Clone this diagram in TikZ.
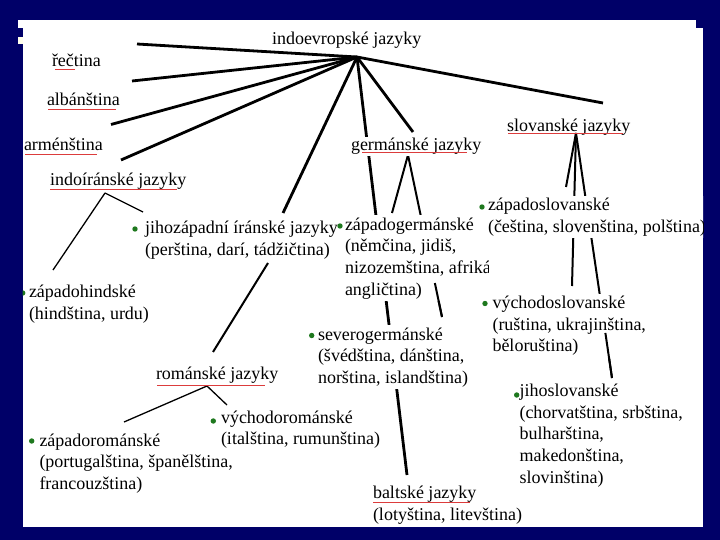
\documentclass[tikz,border=0pt]{standalone}
\usepackage{fontspec}
\setmainfont{Liberation Serif}
\usetikzlibrary{calc}
\definecolor{navy}{RGB}{0,0,104}
\definecolor{spell}{RGB}{220,60,60}
\definecolor{dotgreen}{RGB}{30,120,30}
\begin{document}
\begin{tikzpicture}[x=1pt,y=-1pt,
  lbl/.style={anchor=base west, inner xsep=1pt, inner ysep=2pt, outer sep=0pt,
              font=\fontsize{18}{21.7}\selectfont, align=left, text=black},
  box/.style={lbl, fill=white},
  wA/.style={line width=2.8pt, black},
  wB/.style={line width=2pt, black},
  wC/.style={line width=1.3pt, black},
  spl/.style={spell, line width=1pt},
  dot/.style={circle, fill=dotgreen, inner sep=0pt, minimum size=5.4pt}
]
\useasboundingbox (0,0) rectangle (720,540);
\fill[navy] (0,0) rectangle (720,540);
\fill[white] (18,20) rectangle (696,28.3);
\fill[white] (22.5,28) rectangle (703,527);
\fill[white!92!yellow] (18.3,36.7) rectangle (22.5,44.3);

\begin{scope}
\clip (22.5,20) rectangle (703,527);
% connector end points
\coordinate (hub) at (357,57);
\coordinate (h1) at (137,44);
\coordinate (h2) at (132,81);
\coordinate (h3) at (111,124.5);
\coordinate (h4) at (121,160);
\coordinate (hs) at (603,103);
\coordinate (hg) at (413,132);
\coordinate (hr) at (283,213);
\coordinate (hb) at (407,475);
\coordinate (r1) at (268,263);
\coordinate (r2) at (213,352);
\coordinate (gap) at (408,155);
\coordinate (gz) at (392,213);
\coordinate (gs) at (442,317);
\coordinate (sap) at (576,133);
\coordinate (sz) at (566,187);
\coordinate (sv) at (572,286);
\coordinate (sj) at (612,378);
\coordinate (iap) at (105,193);
\coordinate (iz) at (53,270);
\coordinate (ij) at (143,212);
\coordinate (rap) at (207,386);
\coordinate (rz) at (124,422);
\coordinate (rv) at (227,405);

% connectors (drawn first, text boxes hide parts of them)
\foreach \e in {h1,h2,h3,h4,hs,hg,hr,hb} \draw[wA] (hub) -- (\e);
\draw[wB] (r1) -- (r2);
\draw[wB] (gap) -- (gz);
\draw[wB] (gap) -- (gs);
\draw[wB] (sap) -- (sz);
\draw[wB] (sap) -- (sv);
\draw[wB] (sap) -- (sj);
\draw[wC] (iap) -- (iz);
\draw[wC] (iap) -- (ij);
\draw[wC] (rap) -- (rz);
\draw[wC] (rap) -- (rv);

% labels (multi-line nodes are anchored at the baseline of their last line)
\node[lbl] (ie) at (271,45) {indoevropské jazyky};
\node[lbl] (rec) at (51,67) {řečtina};
\node[lbl] (alb) at (46,106) {albánština};
\node[lbl] (arm) at (23,151) {arménština};
\node[lbl] (ii) at (49,186) {indoíránské jazyky};
\node[box] (jz) at (144,255.2) {jihozápadní íránské jazyky\\(perština, darí, tádžičtina)};
\node[lbl] (zh) at (28,319.2) {západohindské\\(hindština, urdu)};
\node[box, inner ysep=1pt] (germ) at (350,151) {germánské jazyky};
\node[lbl] (slov) at (506,131.5) {slovanské jazyky};
\begin{scope}
\clip (0,0) rectangle (488.5,540);
\node[box] (zg) at (344,295.1) {západogermánské\\(němčina, jidiš,\\nizozemština, afrikánština\\angličtina)};
\end{scope}
\node[box] (zs) at (487,232.2) {západoslovanské\\(čeština, slovenština, polština)};
\node[box] (vs) at (491.5,351.9) {východoslovanské\\(ruština, ukrajinština,\\běloruština)};
\node[lbl] (js) at (518.5,483.3) {jihoslovanské\\(chorvatština, srbština,\\bulharština,\\makedonština,\\slovinština)};
\node[box] (sg) at (317,383.4) {severogermánské\\(švédština, dánština,\\norština, islandština)};
\node[lbl] (balt) at (372,520.2) {baltské jazyky\\(lotyština, litevština)};
\node[lbl] (rom) at (155,379.5) {románské jazyky};
\node[lbl] (vr) at (220,444.7) {východorománské\\(italština, rumunština)};
\node[lbl] (zr) at (38.5,489.4) {západorománské\\(portugalština, španělština,\\francouzština)};

% parts of connectors that show beside the text blocks
\draw[wB] ($(gap)!0.79!(gs)$) -- (gs);
\draw[wB] ($(sap)!0.816!(sj)$) -- (sj);

% spell-check underlines
\draw[spl] (55,70) -- (75,70);
\draw[spl] (48,109.5) -- (116,109.5);
\draw[spl] (25,155) -- (97,155);
\draw[spl] (50,190) -- (177,190);
\draw[spl] (362,153) -- (467,153);
\draw[spl] (508,133.5) -- (623,133.5);
\draw[spl] (157,385) -- (265,385);
\draw[spl] (373,502) -- (470,502);

% bullets
\node[dot] (bjz) at (135,229) {};
\node[dot] (bzh) at (22.7,293) {};
\node[dot] (bzg) at (340,226) {};
\node[dot] (bzs) at (482,207) {};
\node[dot] (bvs) at (485,303.5) {};
\node[dot] (bjs) at (516.7,395) {};
\node[dot] (bsg) at (311.7,335.5) {};
\node[dot] (bvr) at (213.3,421) {};
\node[dot] (bzr) at (31.7,441) {};
\end{scope}
\end{tikzpicture}
\end{document}
